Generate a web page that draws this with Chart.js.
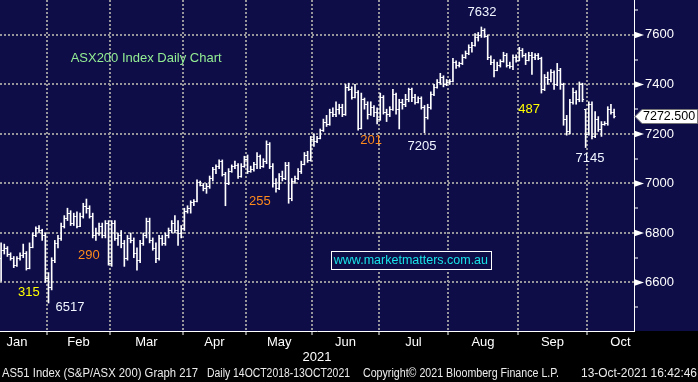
<!DOCTYPE html>
<html>
<head>
<meta charset="utf-8">
<script src="https://cdn.jsdelivr.net/npm/chart.js@4.4.0/dist/chart.umd.min.js"></script>
<style>
  html, body { margin: 0; padding: 0; background: #000; }
  #wrap { width: 698px; height: 382px; position: relative; }
</style>
</head>
<body>
<div id="wrap"><canvas id="asxChart"></canvas></div>
<script>
// ASX200 daily bars, Jan 2021 - 13 Oct 2021
const monthNames = ["Jan", "Feb", "Mar", "Apr", "May", "Jun", "Jul", "Aug", "Sep", "Oct"];
const monthBars = [15, 20, 23, 20, 21, 21, 22, 22, 22, 9];   // bars shown per month
const monthDays = [19, 20, 23, 20, 21, 21, 22, 22, 22, 21];  // trading days in the month
const yearLabel = "2021";

const opens = [
  6700,6730,6740,6715,6700,6670,6700,6710,6720,6660,6745,6790,6820,6810,6790,
  6620,6580,6690,6760,6780,6830,6860,6880,6840,6870,6830,6870,6910,6900,6870,6790,6800,6830,6790,6840,
  6680,6840,6780,6790,6760,6700,6780,6770,6720,6690,6760,6790,6850,6770,6740,6700,6780,6760,6790,6810,6840,6810,6800,
  6820,6890,6900,6925,6930,7005,6995,6980,6990,7020,7060,7070,7090,7040,7000,7050,7070,7075,7030,7070,
  7100,7050,7060,7080,7110,7070,7090,7160,7070,7000,6980,7030,7020,7075,6940,7010,7020,7050,7080,7115,7095,
  7180,7170,7185,7215,7250,7240,7290,7280,7300,7310,7280,7390,7380,7350,7370,7225,7340,7320,7280,7310,7290,
  7260,7350,7290,7280,7300,7360,7300,7330,7320,7340,7380,7350,7330,7345,7310,7270,7310,7360,7390,7410,7430,7400,
  7410,7415,7490,7480,7485,7510,7525,7550,7560,7590,7600,7620,7595,7510,7490,7460,7480,7495,7520,7480,7475,7510,
  7500,7540,7520,7500,7520,7510,7520,7505,7380,7430,7420,7450,7400,7460,7400,7260,7210,7330,7370,7340,7400,7300,
  7200,7320,7190,7260,7220,7240,7245,7300,7290
];
const highs = [
  6760,6755,6745,6720,6705,6705,6720,6755,6725,6760,6800,6825,6830,6815,6800,
  6640,6700,6770,6790,6840,6870,6900,6890,6880,6885,6880,6920,6937,6910,6880,6820,6840,6840,6850,6850,
  6850,6850,6800,6810,6770,6790,6800,6780,6740,6770,6800,6860,6860,6780,6760,6790,6790,6800,6820,6850,6870,6850,6830,
  6900,6910,6930,6935,7015,7010,7000,7000,7030,7065,7075,7095,7095,7045,7060,7075,7090,7080,7080,7110,
  7115,7070,7085,7125,7115,7100,7172,7165,7080,7020,7040,7050,7085,7085,7020,7030,7060,7090,7125,7130,7190,
  7200,7190,7220,7260,7275,7300,7305,7330,7320,7320,7400,7405,7390,7400,7375,7365,7345,7330,7330,7315,7305,
  7365,7355,7300,7310,7380,7365,7340,7340,7360,7385,7385,7360,7350,7350,7315,7320,7370,7400,7420,7445,7435,7420,
  7420,7505,7495,7490,7520,7535,7560,7570,7605,7610,7632,7625,7600,7515,7500,7490,7500,7530,7525,7490,7520,7520,
  7550,7545,7525,7530,7530,7525,7525,7510,7440,7450,7460,7455,7485,7465,7405,7275,7340,7385,7375,7410,7405,7300,
  7330,7330,7290,7270,7250,7250,7310,7320,7300
];
const lows = [
  6605,6715,6705,6690,6660,6665,6690,6700,6650,6655,6740,6785,6800,6770,6600,
  6517,6570,6680,6740,6770,6820,6850,6830,6830,6820,6825,6860,6880,6860,6780,6770,6790,6780,6780,6670,
  6665,6770,6750,6740,6665,6690,6760,6700,6650,6680,6750,6780,6760,6730,6680,6690,6750,6750,6780,6800,6800,6750,6780,
  6810,6880,6880,6910,6925,6990,6970,6960,6980,7010,7040,7060,7030,6910,6995,7045,7060,7020,7025,7065,
  7040,7045,7050,7060,7060,7065,7080,7060,6985,6965,6975,7010,7015,6920,6930,7000,7015,7040,7075,7085,7090,
  7150,7165,7180,7210,7230,7235,7270,7270,7280,7270,7275,7375,7340,7345,7215,7220,7300,7260,7275,7270,7240,
  7255,7280,7250,7270,7295,7280,7220,7300,7310,7330,7330,7320,7325,7300,7205,7260,7300,7355,7385,7400,7390,7395,
  7400,7410,7465,7470,7480,7505,7520,7530,7555,7575,7590,7590,7500,7480,7430,7455,7470,7490,7470,7465,7460,7490,
  7495,7510,7480,7495,7440,7500,7500,7365,7375,7400,7410,7380,7395,7380,7235,7195,7200,7320,7320,7330,7330,7145,
  7195,7180,7185,7210,7190,7235,7235,7280,7265
];
const closes = [
  6730,6740,6715,6700,6670,6700,6710,6720,6660,6745,6790,6820,6810,6790,6620,
  6580,6690,6760,6780,6830,6860,6880,6840,6870,6830,6870,6910,6900,6870,6790,6800,6830,6790,6840,6680,
  6840,6780,6790,6760,6700,6780,6770,6720,6690,6760,6790,6850,6770,6740,6700,6780,6760,6790,6810,6840,6810,6800,6820,
  6890,6900,6925,6930,7005,6995,6980,6990,7020,7060,7070,7090,7040,7000,7050,7070,7075,7030,7070,7100,
  7050,7060,7080,7110,7070,7090,7160,7070,7000,6980,7030,7020,7075,6940,7010,7020,7050,7080,7115,7095,7180,
  7170,7185,7215,7250,7240,7290,7280,7300,7310,7280,7390,7380,7350,7370,7225,7340,7320,7280,7310,7290,7260,
  7350,7290,7280,7300,7360,7300,7330,7320,7340,7380,7350,7330,7345,7310,7270,7310,7360,7390,7410,7430,7400,7410,
  7415,7490,7480,7485,7510,7525,7550,7560,7590,7600,7620,7595,7510,7490,7460,7480,7495,7520,7480,7475,7510,7500,
  7540,7520,7500,7520,7510,7520,7505,7380,7430,7420,7450,7400,7460,7400,7260,7210,7330,7370,7340,7400,7340,7200,
  7320,7190,7260,7220,7240,7245,7300,7290,7272.5
];

const yTickValues = [6500,6600,6700,6800,6900,7000,7100,7200,7300,7400,7500,7600,7700];
const lastPrice = 7272.5;

// chart notes: text, bar index, price level, colour
const notes = [
  { text: "ASX200 Index Daily Chart", x: 45.9, y: 7507, color: "#93ee93" },
  { text: "7632", x: 152.2, y: 7689, color: "#f2f6ff" },
  { text: "487", x: 167.1, y: 7297, color: "#ffff00" },
  { text: "201", x: 117.1, y: 7172, color: "#ff8a1c" },
  { text: "7205", x: 133.2, y: 7148, color: "#f2f6ff" },
  { text: "7145", x: 186.4, y: 7103, color: "#f2f6ff" },
  { text: "255", x: 81.9, y: 6929, color: "#ff8a1c" },
  { text: "290", x: 27.8, y: 6711, color: "#ff8a1c" },
  { text: "315", x: 8.8, y: 6558, color: "#ffff00" },
  { text: "6517", x: 21.8, y: 6501, color: "#f2f6ff" }
];
const siteNote = { text: "www.marketmatters.com.au", x: 129.7, y: 6691, color: "#19e3e8" };

const footer = [
  { text: "AS51 Index (S&P/ASX 200) Graph 217", x: 2, w: 196 },
  { text: "Daily 14OCT2018-13OCT2021", x: 207, w: 143 },
  { text: "Copyright\u00a9 2021 Bloomberg Finance L.P.", x: 363, w: 196 },
  { text: "13-Oct-2021 16:42:46", x: 581, w: 116 }
];

const FONT = "'Liberation Sans', Arial, sans-serif";
const NAVY = "rgb(14,13,72)";
const DOTS = "rgb(150,150,155)";

// month boundaries (grid lines) and month centres (labels)
const xTicks = [];
let start = -0.5;
monthBars.forEach((n, k) => {
  const end = start + n;
  const centre = k === 0 ? end - monthDays[0] / 2 : start + monthDays[k] / 2;
  xTicks.push({ value: centre, kind: "c", name: monthNames[k] });
  if (k < monthBars.length - 1) xTicks.push({ value: end, kind: "b", name: "" });
  start = end;
});
xTicks.sort((a, b) => a.value - b.value);

// no extra room for half-labels at the plot edges
function noEdgePadding(scale) {
  scale.paddingTop = 0;
  scale.paddingBottom = 0;
  scale.paddingLeft = 0;
  scale.paddingRight = 0;
}

const backdrop = {
  id: "backdrop",
  beforeDraw(chart) {
    const { ctx, width, height, chartArea } = chart;
    ctx.save();
    ctx.fillStyle = "#000";
    ctx.fillRect(0, 0, width, height);
    ctx.fillStyle = NAVY;
    ctx.fillRect(0, 0, width, chartArea.bottom);
    ctx.restore();
  }
};

const ohlcTicks = {
  id: "ohlcTicks",
  afterDatasetsDraw(chart) {
    const { ctx } = chart;
    const xs = chart.scales.x, ys = chart.scales.y;
    ctx.save();
    ctx.strokeStyle = "#fff";
    ctx.lineWidth = 1;
    ctx.beginPath();
    for (let i = 0; i < closes.length; i++) {
      const x = xs.getPixelForValue(i);
      const yo = Math.round(ys.getPixelForValue(opens[i])) + 0.5;
      const yc = Math.round(ys.getPixelForValue(closes[i])) + 0.5;
      ctx.moveTo(x - 1.6, yo); ctx.lineTo(x, yo);
      ctx.moveTo(x, yc); ctx.lineTo(x + 1.6, yc);
    }
    ctx.stroke();
    ctx.restore();
  }
};

const overlay = {
  id: "overlay",
  afterDraw(chart) {
    const { ctx, chartArea } = chart;
    const xs = chart.scales.x, ys = chart.scales.y;
    ctx.save();

    // arrows on the price axis
    ctx.fillStyle = "#fff";
    yTickValues.filter(v => v % 200 === 0).forEach(v => {
      const y = ys.getPixelForValue(v);
      ctx.beginPath();
      ctx.moveTo(chartArea.right, y - 3.5);
      ctx.lineTo(chartArea.right + 10, y);
      ctx.lineTo(chartArea.right, y + 3.5);
      ctx.closePath();
      ctx.fill();
    });

    // last price tag
    const py = Math.round(ys.getPixelForValue(lastPrice)) + 0.5;
    const L = chartArea.right + 1, R = chart.width - 0.5;
    ctx.beginPath();
    ctx.moveTo(L, py);
    ctx.lineTo(L + 7, py - 7);
    ctx.lineTo(R, py - 7);
    ctx.lineTo(R, py + 7);
    ctx.lineTo(L + 7, py + 7);
    ctx.closePath();
    ctx.fillStyle = "#fff";
    ctx.fill();
    ctx.strokeStyle = "#777";
    ctx.lineWidth = 1;
    ctx.stroke();
    ctx.fillStyle = "#000";
    ctx.font = "12.5px " + FONT;
    ctx.textAlign = "left";
    ctx.textBaseline = "middle";
    ctx.fillText(lastPrice.toFixed(3), L + 8, py + 0.5, R - L - 9);

    // notes
    ctx.font = "13px " + FONT;
    ctx.textAlign = "center";
    notes.forEach(n => {
      ctx.fillStyle = n.color;
      ctx.fillText(n.text, xs.getPixelForValue(n.x), ys.getPixelForValue(n.y));
    });

    // website box
    ctx.font = "12.5px " + FONT;
    const sx = xs.getPixelForValue(siteNote.x), sy = ys.getPixelForValue(siteNote.y);
    const sw = ctx.measureText(siteNote.text).width;
    const bx = Math.round(sx - sw / 2 - 3) + 0.5, by = Math.round(sy - 9) + 0.5;
    ctx.fillStyle = NAVY;
    ctx.fillRect(bx, by, Math.round(sw + 6), 18);
    ctx.strokeStyle = "#fff";
    ctx.strokeRect(bx, by, Math.round(sw + 6), 18);
    ctx.fillStyle = siteNote.color;
    ctx.fillText(siteNote.text, sx, sy + 0.5);

    // footer line
    ctx.font = "12px " + FONT;
    ctx.textAlign = "left";
    ctx.fillStyle = "#ececec";
    footer.forEach(f => ctx.fillText(f.text, f.x, 374, f.w));

    ctx.restore();
  }
};

const ctx = document.getElementById("asxChart").getContext("2d");

const asxChart = new Chart(ctx, {
  type: "bar",
  data: {
    datasets: [
      {
        label: "AS51",
        data: highs.map((h, i) => ({ x: i, y: [lows[i], h] })),
        backgroundColor: "#fff",
        borderWidth: 0,
        barThickness: 1,
        grouped: false
      }
    ]
  },
  options: {
    responsive: true,
    maintainAspectRatio: false,
    animation: false,
    devicePixelRatio: 1,
    events: [],
    layout: { padding: 0 },
    plugins: {
      legend: { display: false },
      tooltip: { enabled: false }
    },
    scales: {
      x: {
        type: "linear",
        position: "bottom",
        min: -0.35,
        max: 200.3,
        offset: false,
        afterBuildTicks: (scale) => {
          scale.ticks = xTicks.map(t => ({ value: t.value, kind: t.kind, name: t.name }));
        },
        afterFit: (scale) => {
          scale.height = 51;
          noEdgePadding(scale);
        },
        ticks: {
          autoSkip: false,
          maxRotation: 0,
          padding: 0,
          color: "#fff",
          font: { size: 13, family: FONT },
          callback: (value, index) => xTicks[index].name
        },
        grid: {
          offset: false,
          lineWidth: 2,
          color: (c) => (c.tick && c.tick.kind === "b" ? DOTS : "transparent"),
          tickColor: (c) => (c.tick && c.tick.kind === "b" ? "#fff" : "transparent"),
          tickWidth: 1,
          tickLength: 4
        },
        border: { color: "#fff", width: 1, dash: [2, 2] },
        title: {
          display: true,
          text: yearLabel,
          color: "#fff",
          font: { size: 13, family: FONT },
          padding: { top: 0, bottom: 17 }
        }
      },
      y: {
        type: "linear",
        position: "right",
        min: 6404,
        max: 7741,
        afterBuildTicks: (scale) => {
          scale.ticks = yTickValues.map(v => ({ value: v }));
        },
        afterFit: (scale) => {
          scale.width = 64;
          noEdgePadding(scale);
        },
        ticks: {
          padding: 7,
          color: "#fff",
          font: { size: 13, family: FONT },
          callback: (value) => (value % 200 === 0 ? String(value) : "")
        },
        grid: {
          lineWidth: 2,
          color: (c) => (c.tick && c.tick.value % 200 === 0 ? DOTS : "transparent"),
          tickColor: "#fff",
          tickWidth: 1,
          tickLength: 4
        },
        border: { color: "#fff", width: 1, dash: [2, 2] }
      }
    }
  },
  plugins: [backdrop, ohlcTicks, overlay]
});
</script>
</body>
</html>
